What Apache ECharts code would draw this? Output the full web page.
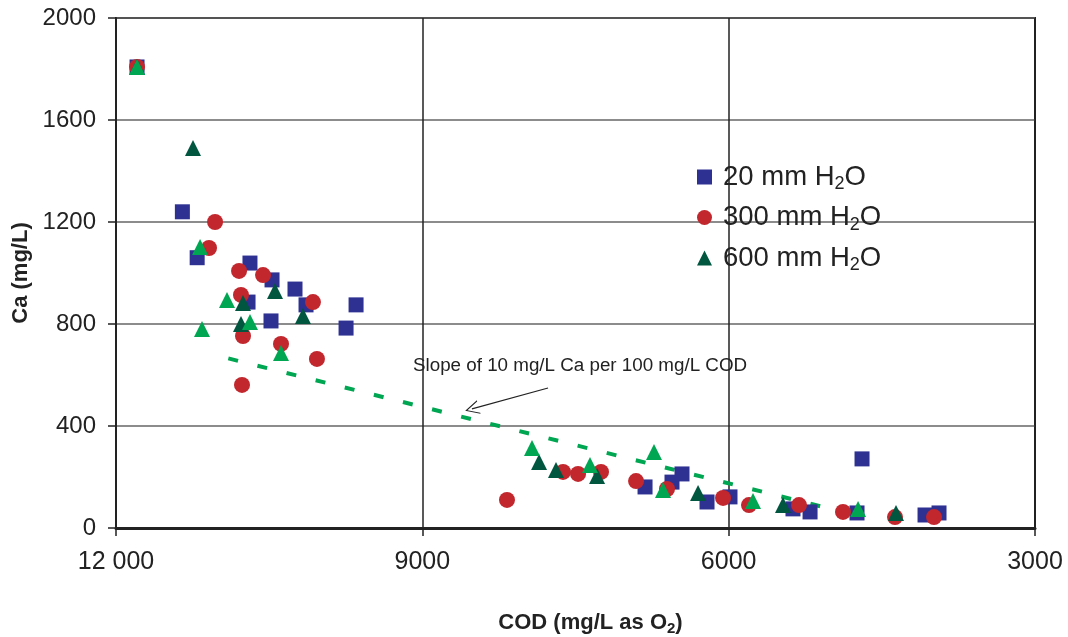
<!DOCTYPE html>
<html>
<head>
<meta charset="utf-8">
<script src="https://cdn.jsdelivr.net/npm/echarts@6/dist/echarts.min.js"></script>
<style>html,body{margin:0;padding:0;background:#fff;}#c{width:1068px;height:637px;}</style>
</head>
<body>
<div id="c"></div>
<script>
// COD (mg/L as O2) and Ca (mg/L) values
const s20X = [11794, 11350, 11205, 10688, 10707, 10472, 10482, 10247, 10139, 9747, 9649, 6819, 6555, 6457, 6212, 5987, 5370, 5203, 4694, 4743, 4077, 3940];
const s20Y = [1808, 1240, 1060, 1039, 886, 973, 812, 937, 875, 784, 875, 161, 180, 212, 102, 122, 75, 63, 271, 59, 51, 59];

const s300X = [11794, 11030, 11089, 10795, 10560, 10776, 10071, 10756, 10384, 10032, 10766, 8171, 7622, 7475, 7250, 6907, 6604, 6055, 5801, 5311, 4880, 4371, 3989];
const s300Y = [1808, 1200, 1098, 1008, 992, 914, 886, 753, 722, 663, 561, 110, 220, 212, 220, 184, 153, 118, 90, 90, 63, 43, 43];

const s600X = [11794, 11246, 10443, 10756, 10169, 10776, 7857, 7691, 7289, 6300, 5468, 4361];
const s600Y = [1808, 1490, 929, 882, 831, 800, 259, 227, 204, 137, 90, 59];

const extraX = [11794, 11177, 10913, 11158, 10688, 10384, 7926, 7358, 6731, 6643, 5762, 4733];
const extraY = [1808, 1102, 894, 780, 808, 686, 314, 247, 298, 149, 106, 75];

const trendX = [10900, 4780];
const trendY = [665, 53];

const arrowFrom = [7769, 549];
const arrowTo = [8514, 467];

const xTicks = [3000, 6000, 9000, 12000];
const seriesNames = ['20 mm H2O', '300 mm H2O', '600 mm H2O'];
const annotation = 'Slope of 10 mg/L Ca per 100 mg/L COD';

const zip = (xs, ys) => xs.map((x, i) => [x, ys[i]]);

const chart = echarts.init(document.getElementById('c'), null, {renderer: 'canvas'});
const font = 'Liberation Sans, Arial, Helvetica, sans-serif';
chart.setOption({
  animation: false,
  backgroundColor: '#fff',
  textStyle: {fontFamily: font},
  grid: {left: 116, right: 33, top: 18, bottom: 109, show: true, borderColor: '#222', borderWidth: 2,
    backgroundColor: 'transparent', containLabel: false, outerBoundsMode: 'none'},
  legend: {
    data: seriesNames,
    orient: 'vertical',
    left: 697, top: 163, padding: 0,
    itemWidth: 15, itemHeight: 15, itemGap: 10,
    formatter: n => n.replace('H2O', 'H{sub|2}O'),
    textStyle: {fontSize: 27.5, color: '#222', fontFamily: font, padding: [0, 0, 0, 6],
      rich: {sub: {fontSize: 18, padding: [15, 0, 0, 0], color: '#222', fontFamily: font}}}
  },
  xAxis: {
    type: 'value', min: 3000, max: 12000, interval: 3000, inverse: true,
    name: 'COD (mg/L as O{sub|2})', nameLocation: 'middle', nameGap: 81,
    nameTextStyle: {fontSize: 22, fontWeight: 'bold', color: '#222', padding: [0, 0, 0, 30],
      rich: {sub: {fontSize: 15, fontWeight: 'bold', padding: [12, 0, 0, 0], color: '#222'}}},
    axisLine: {lineStyle: {color: '#222', width: 3}},
    axisTick: {show: true, inside: false, length: 8, lineStyle: {color: '#222', width: 1.5}},
    axisLabel: {fontSize: 25, color: '#222', margin: 22,
      formatter: v => v >= 10000 ? String(v).replace(/(\d{2})(\d{3})/, '$1 $2') : String(v)},
    splitLine: {show: true, lineStyle: {color: '#222', width: 1.5}}
  },
  yAxis: {
    type: 'value', min: 0, max: 2000, interval: 400,
    name: 'Ca (mg/L)', nameLocation: 'middle', nameGap: 84,
    nameTextStyle: {fontSize: 22, fontWeight: 'bold', color: '#222'},
    axisLine: {lineStyle: {color: '#222', width: 2}},
    axisTick: {show: true, inside: false, length: 8, lineStyle: {color: '#222', width: 1.5}},
    axisLabel: {fontSize: 24, color: '#222', margin: 20, formatter: v => String(v)},
    splitLine: {show: true, lineStyle: {color: '#666', width: 1.5}}
  },
  graphic: [{
    type: 'text', left: 413, top: 356, z: 100,
    style: {text: annotation, fontSize: 18.8, fill: '#222', fontFamily: font}
  }],
  series: [
    {
      name: 'trend', type: 'line', data: zip(trendX, trendY), symbol: 'none', z: 1,
      lineStyle: {color: '#00a651', width: 4, type: [10, 20]},
      silent: true,
      markLine: {
        silent: true, symbol: ['none', 'path://M0,12 L6,0 L12,12 L11,12 L6,2 L1,12 Z'], symbolSize: [14, 14],
        label: {show: false},
        lineStyle: {color: '#222', width: 1.2, type: 'solid'},
        data: [[{coord: arrowFrom}, {coord: arrowTo}]]
      }
    },
    {name: seriesNames[0], type: 'scatter', data: zip(s20X, s20Y), symbol: 'rect', symbolSize: 15, z: 2,
      itemStyle: {color: '#2e3192', opacity: 1}},
    {name: seriesNames[1], type: 'scatter', data: zip(s300X, s300Y), symbol: 'circle', symbolSize: 16, z: 3,
      itemStyle: {color: '#c1272d', opacity: 1}},
    {name: seriesNames[2], type: 'scatter', data: zip(s600X, s600Y), symbol: 'triangle', symbolSize: 16, z: 4,
      itemStyle: {color: '#00563f', opacity: 1}},
    {name: 'extra', type: 'scatter', data: zip(extraX, extraY), symbol: 'triangle', symbolSize: 16, z: 5,
      itemStyle: {color: '#00a651', opacity: 1}}
  ]
});
</script>
</body>
</html>
